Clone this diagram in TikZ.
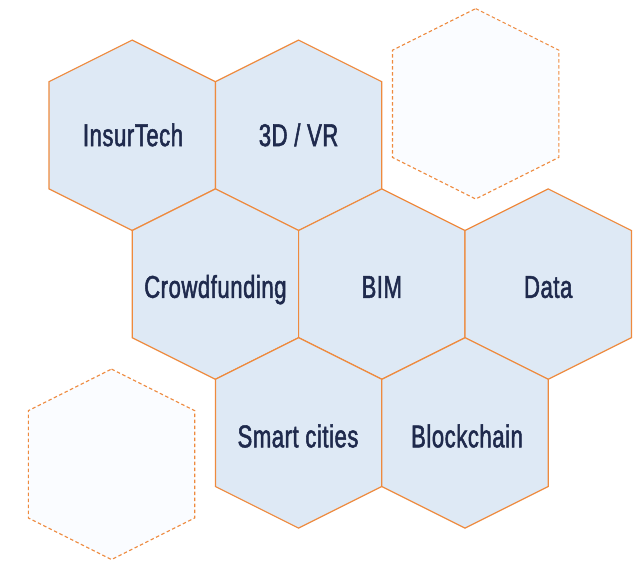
\documentclass[tikz,border=0pt]{standalone}
\usepackage{fontspec}
\newfontfamily\hexfont{Liberation Sans}[FakeStretch=0.70,FakeBold=1.6,LetterSpace=1.8]
\definecolor{hexfill}{HTML}{DEE9F5}
\definecolor{hexline}{HTML}{EE8A3E}
\definecolor{hextext}{HTML}{1F2A4D}
\definecolor{ghostfill}{HTML}{FAFCFF}
\tikzset{
  hexcell/.style={fill=hexfill, draw=hexline, line width=1.2pt, line join=miter},
  ghostcell/.style={fill=ghostfill, draw=hexline, line width=1.1pt, dash pattern=on 3.5pt off 2.5pt},
  hexlabel/.style={font=\hexfont\fontsize{31.5}{34}\selectfont, text=hextext, inner sep=0pt, text height=22.6pt, text depth=0pt, anchor=center}
}
\newcommand{\hexpath}[3]{%
  \path[#3] (#1,#2) ++(0,-95.2) -- ++(83.2,41.6) -- ++(0,107.2) -- ++(-83.2,41.6) -- ++(-83.2,-41.6) -- ++(0,-107.2) -- cycle;}
\begin{document}
\begin{tikzpicture}[x=1pt,y=-1pt]
\useasboundingbox (0,0) rectangle (636,560);
% ghost hexagons
\hexpath{475.7}{103.8}{ghostcell}
\hexpath{111.5}{464.3}{ghostcell}
% row 1
\hexpath{132.2}{135.3}{hexcell}
\hexpath{298.6}{135.3}{hexcell}
% row 2
\hexpath{215.4}{284.1}{hexcell}
\hexpath{381.8}{284.1}{hexcell}
\hexpath{548.2}{284.1}{hexcell}
% row 3
\hexpath{298.6}{432.9}{hexcell}
\hexpath{465.0}{432.9}{hexcell}
% labels
\node[hexlabel] (insurtech) at (133,134.8) {InsurTech};
\node[hexlabel] (vr) at (298.6,134.8) {3D / VR};
\node[hexlabel] (crowd) at (215.4,286.5) {Crowdfunding};
\node[hexlabel] (bim) at (381.8,286.5) {BIM};
\node[hexlabel] (data) at (548.2,286.5) {Data};
\node[hexlabel] (smart) at (298.0,436) {Smart cities};
\node[hexlabel] (block) at (467.0,436) {Blockchain};
\end{tikzpicture}
\end{document}
